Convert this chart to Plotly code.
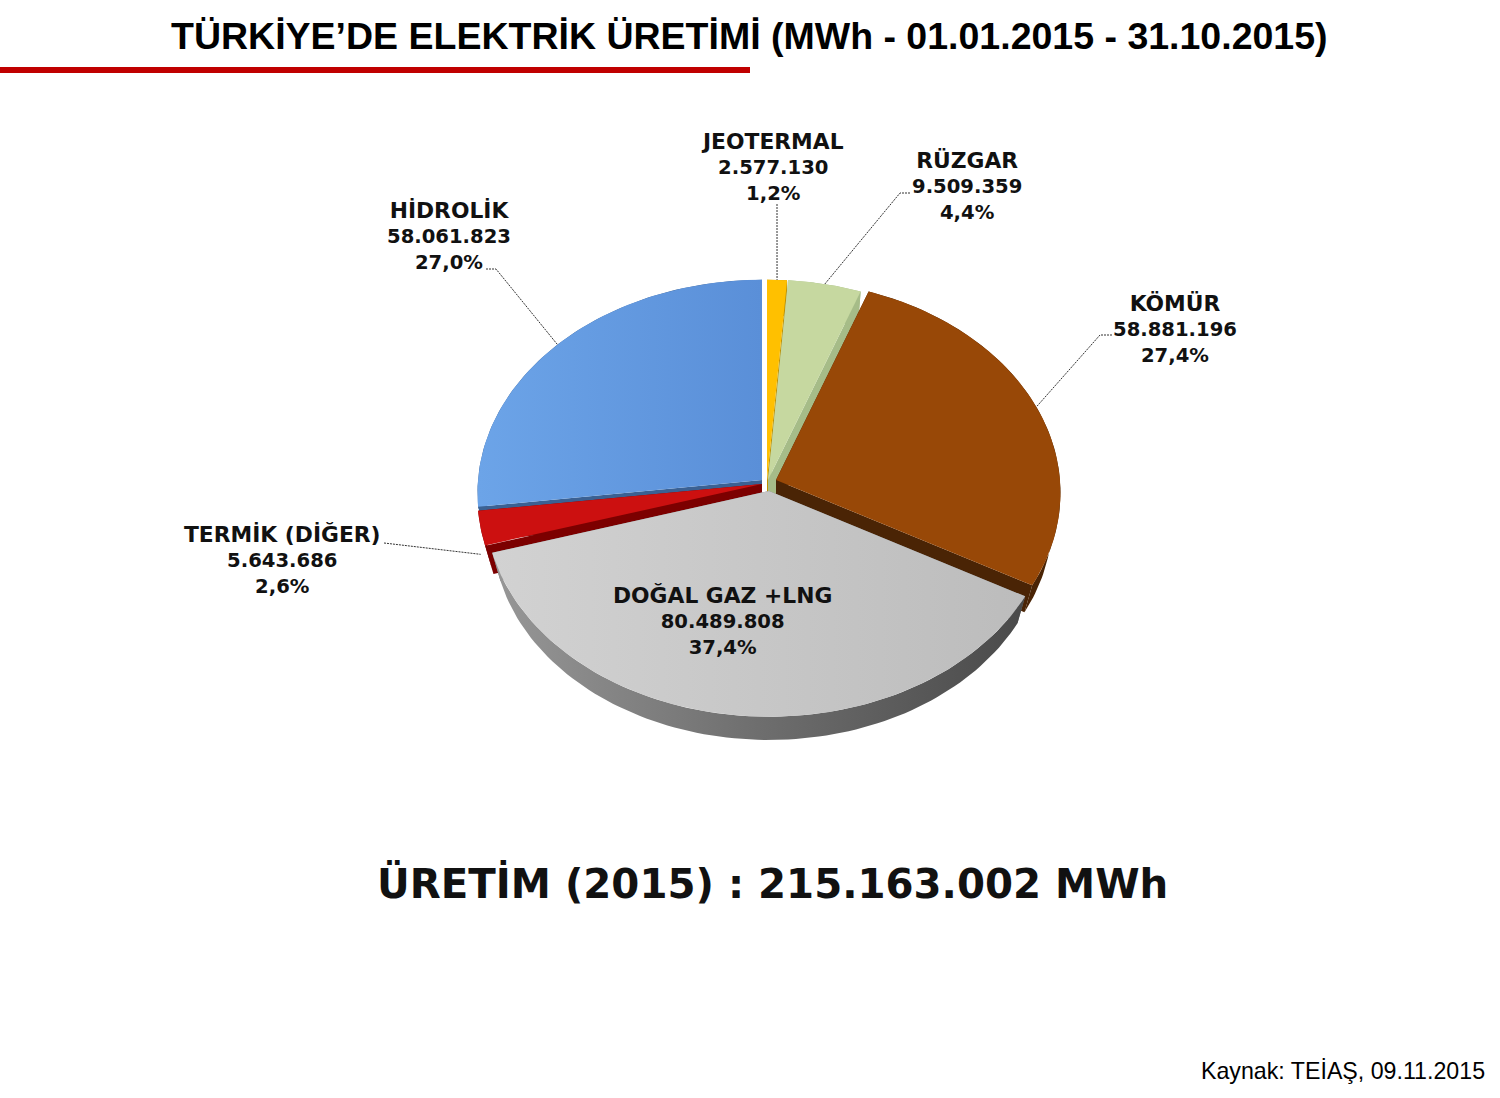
import numpy as np
import plotly.graph_objects as go

# ---- data -------------------------------------------------------------
SOURCES = ["JEOTERMAL", "RÜZGAR", "KÖMÜR", "DOĞAL GAZ +LNG", "TERMİK (DİĞER)", "HİDROLİK"]
VALUES = [2577130, 9509359, 58881196, 80489808, 5643686, 58061823]
TITLE = "TÜRKİYE’DE ELEKTRİK ÜRETİMİ (MWh - 01.01.2015 - 31.10.2015)"
CREDIT = "Kaynak: TEİAŞ, 09.11.2015"

# ---- styles and layout -------------------------------------------------
W, H = 1500, 1098
RX, RY, PERSP = 284.0, 213.0, 0.06   # ellipse radii and perspective of the tilted disc
DEPTH, BASE = 30.0, 0.97             # extrusion depth and shrink of the lower disc
APEX = [(767, 480), (768, 480), (776, 480), (769, 491), (762, 484), (762, 480)]
TOP = ["#FFC000", "#C6D8A0", "#984807", None, "#CC1010", None]
SIDE = ["#BF9000", "#A6BC88", "#4A2405", None, "#7C0000", "#3B6193"]
GRADS = {
    3: [[0, "#D2D2D2"], [1, "#BCBCBC"]],
    5: [[0, "#6CA4E8"], [1, "#5A8FD8"]],
}
RIM_GRADS = {3: [[0, "#979797"], [0.5, "#6E6E6E"], [1, "#4A4A4A"]]}
LABEL_POS = [(772, 167), (967, 186), (1175, 329), (722, 621), (282, 560), (449, 236)]
# leader elbows: label-side start, elbow (None = no leader)
LEADER = [
    [(777, 204)],
    [(910, 193), (900, 193)],
    [(1112, 335), (1100, 335)],
    None,
    [(384, 543)],
    [(486, 269), (496, 269)],
]
LEADER_DROP = [0, 0, 0, 0, 26, 0]
FONT = "DejaVu Sans"
INK = "#111111"


def point(apex, theta, scale=1.0, drop=0.0):
    """Screen position on the tilted disc for a clockwise angle from 12 o'clock."""
    s = (1 - PERSP * np.cos(theta)) * scale
    return apex[0] + RX * np.sin(theta) * s, apex[1] - RY * np.cos(theta) * s + drop


def poly(fig, xs, ys, name, color=None, grad=None):
    kw = dict(fillcolor=color) if grad is None else dict(
        fillgradient=dict(type="horizontal", colorscale=grad))
    fig.add_trace(go.Scatter(
        x=list(xs), y=list(ys), mode="lines", fill="toself",
        line=dict(width=0), name=name, hoverinfo="name", showlegend=False, **kw))


total = sum(VALUES)
edges = 2 * np.pi * np.concatenate([[0], np.cumsum(VALUES)]) / total


def tr_num(v):
    return f"{v:,}".replace(",", ".")


fig = go.Figure()
for i in [5, 0, 1, 2, 4, 3]:
    a0, a1 = edges[i], edges[i + 1]
    ap = APEX[i]
    th = np.linspace(a0, a1, 90)
    tx, ty = point(ap, th)
    bx, by = point(ap, th, BASE, DEPTH)
    side = SIDE[i]
    # radial walls
    for a, col in ((a0, side or "#777777"), (a1, side or "#777777")):
        ex, ey = point(ap, a)
        fx, fy = point(ap, a, BASE, DEPTH)
        poly(fig, [ap[0], ex, fx, ap[0], ap[0]], [ap[1], ey, fy, ap[1] + DEPTH, ap[1]],
             SOURCES[i], col)
    # rim wall
    poly(fig, np.r_[tx, bx[::-1], tx[0]], np.r_[ty, by[::-1], ty[0]], SOURCES[i],
         side, RIM_GRADS.get(i))
    # top face
    poly(fig, np.r_[ap[0], tx, ap[0]], np.r_[ap[1], ty, ap[1]], SOURCES[i],
         TOP[i], GRADS.get(i))

# leader lines end on the rim at the middle of each slice
for i, elbow in enumerate(LEADER):
    if elbow is None:
        continue
    ex, ey = point(APEX[i], (edges[i] + edges[i + 1]) / 2, 1.0, LEADER_DROP[i])
    fig.add_trace(go.Scatter(
        x=[p[0] for p in elbow] + [float(ex)], y=[p[1] for p in elbow] + [float(ey)],
        mode="lines", line=dict(color="#333333", width=1, dash="2px 1px"),
        hoverinfo="skip", showlegend=False))

ann = []
for i, (name, v) in enumerate(zip(SOURCES, VALUES)):
    pct = f"{100 * v / total:.1f}".replace(".", ",")
    ann.append(dict(
        x=LABEL_POS[i][0], y=LABEL_POS[i][1], xref="x", yref="y", showarrow=False,
        text=f'<span style="font-size:21.8px"><b>{name}</b></span><br><b>{tr_num(v)}</b><br><b>{pct}%</b>',
        align="center", xanchor="center", yanchor="middle",
        font=dict(family=FONT, size=19.6, color=INK)))
ann.append(dict(
    x=749, y=36, xref="x", yref="y", showarrow=False, text=f"<b>{TITLE}</b>",
    xanchor="center", yanchor="middle",
    font=dict(family="Liberation Sans", size=37.5, color="#000000")))
ann.append(dict(
    x=772.5, y=884, xref="x", yref="y", showarrow=False,
    text=f"<b>ÜRETİM (2015) : {tr_num(total)} MWh</b>",
    xanchor="center", yanchor="middle",
    font=dict(family=FONT, size=40.3, color=INK)))
ann.append(dict(
    x=1487, y=1071, xref="x", yref="y", showarrow=False, text=CREDIT,
    xanchor="right", yanchor="middle",
    font=dict(family="Liberation Sans", size=23.2, color="#000000")))

fig.update_layout(
    width=W, height=H, margin=dict(l=0, r=0, t=0, b=0),
    paper_bgcolor="#FFFFFF", plot_bgcolor="#FFFFFF", showlegend=False,
    xaxis=dict(range=[0, W], visible=False, fixedrange=True),
    yaxis=dict(range=[H, 0], visible=False, fixedrange=True),
    annotations=ann,
    shapes=[dict(type="rect", xref="x", yref="y", x0=0, x1=750, y0=67, y1=73,
                 fillcolor="#C00000", line=dict(width=0), layer="above")],
)
fig.write_html("out.html", config=dict(displayModeBar=False),
               post_script="document.body.style.margin='0';document.body.style.overflow='hidden';")
